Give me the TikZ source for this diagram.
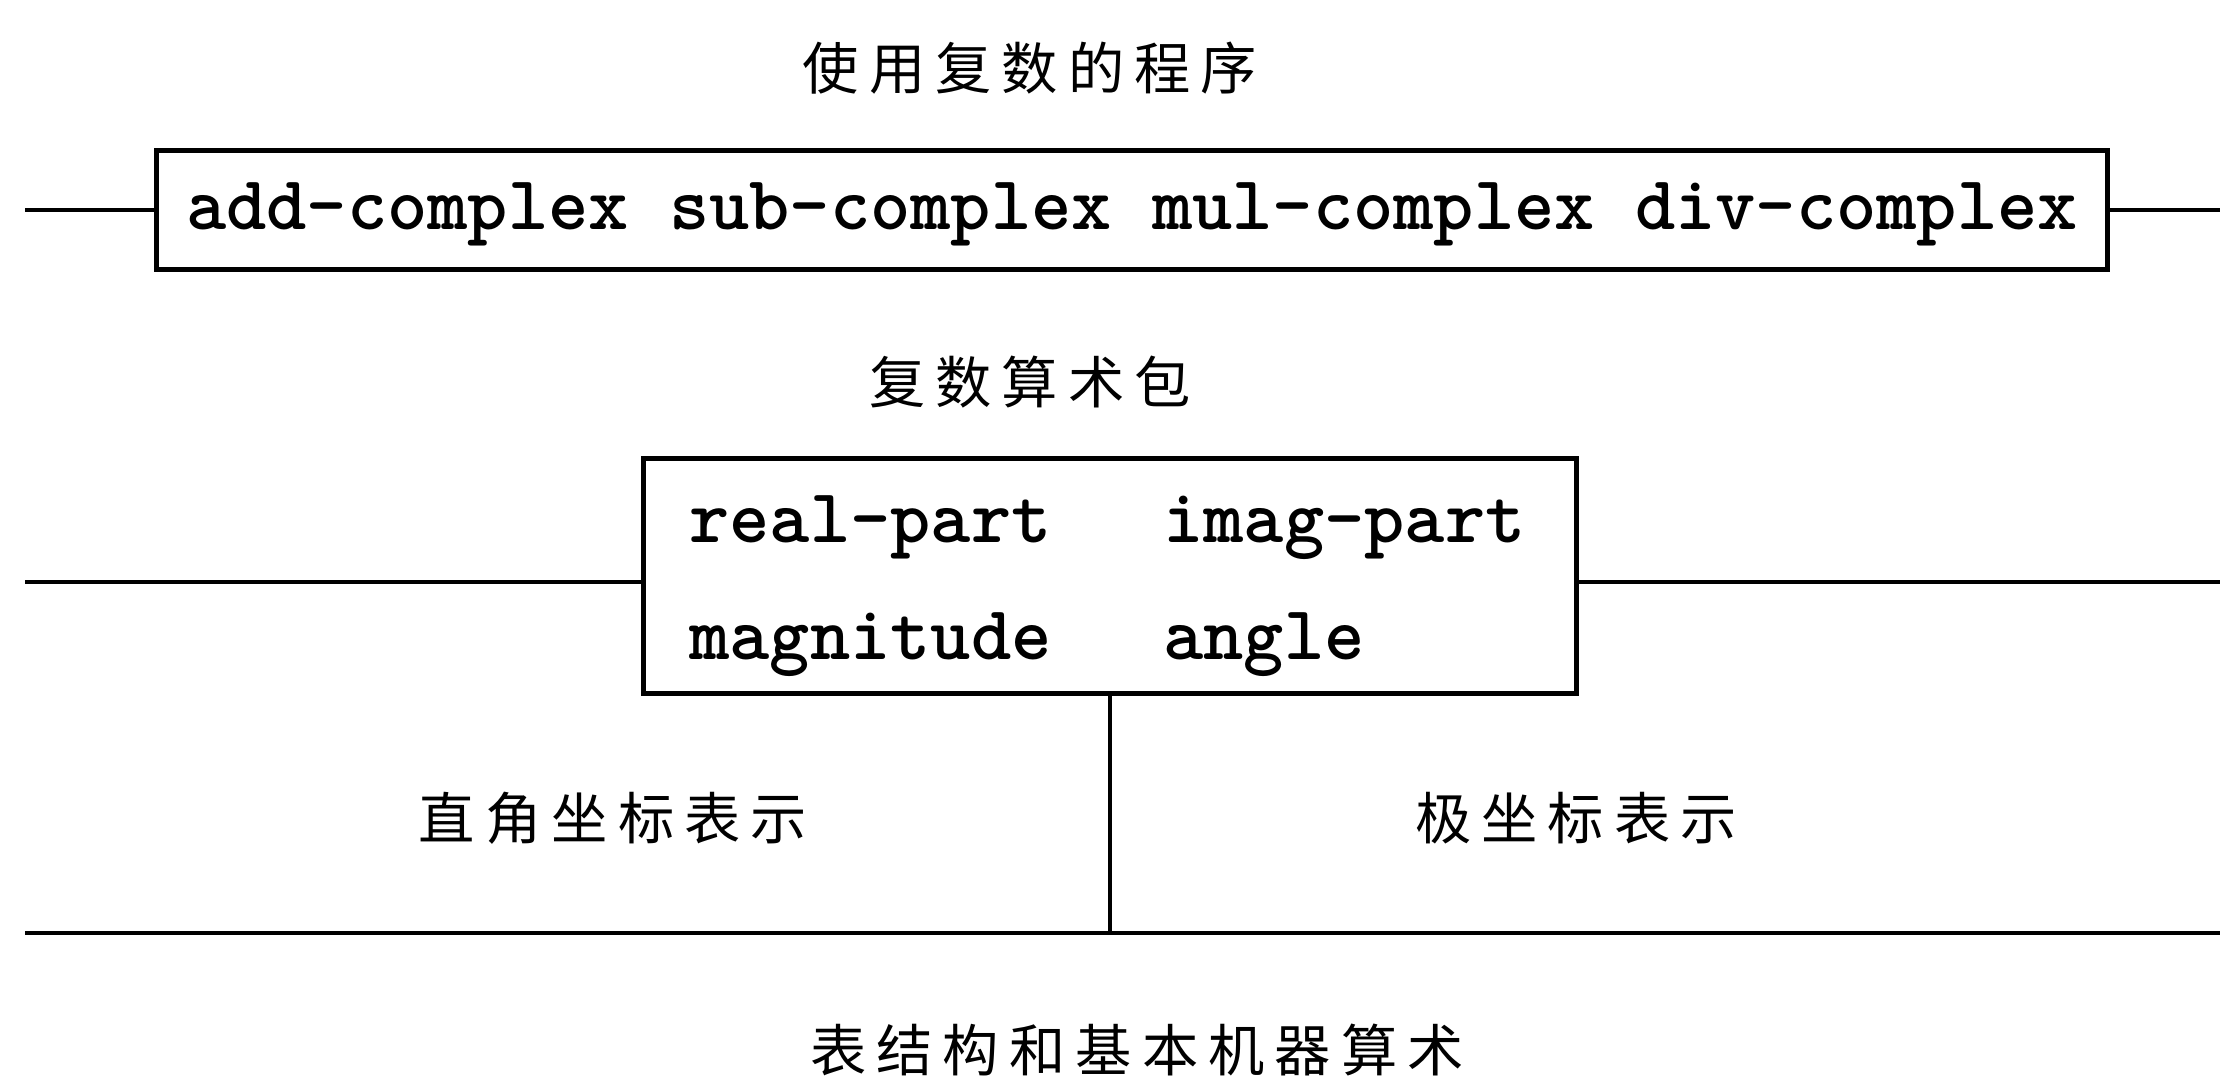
\documentclass[tikz,border=0pt]{standalone}
\usepackage{fontspec}
\usepackage{tikz}
\usetikzlibrary{positioning}
\newfontfamily\cjk{Noto Sans CJK SC}[LetterSpace=18]

\begin{document}
\begin{tikzpicture}[x=0.01cm,y=-0.01cm,line width=1.4pt]
\tikzstyle{every node}+=[inner sep=0pt]
\tikzstyle{box}=[draw,line width=1.4pt]
\tikzstyle{code}=[font=\ttfamily\bfseries\fontsize{21.8pt}{26pt}\selectfont]
\tikzstyle{lbl}=[font=\cjk\fontsize{16pt}{19pt}\selectfont]
\useasboundingbox (0,0) rectangle (2220,1080);
\node[lbl] (prog) at (1030,68) {使用复数的程序};
\node[box,code,minimum width=19.49cm,minimum height=1.19cm,text depth=0.5ex] (ops) at (1132,210) {add-complex sub-complex mul-complex div-complex};
\coordinate (opsl) at (25,210);
\coordinate (opsr) at (2220,210);
\draw (opsl) -- (ops.west);
\draw (ops.east) -- (opsr);
\node[lbl] (pkg) at (1030,382) {复数算术包};
\node[box,minimum width=9.32cm,minimum height=2.35cm] (sel) at (1110,576) {};
\node[code,anchor=base west] (re) at (687,543) {real-part};
\node[code,anchor=base west] (im) at (1161,543) {imag-part};
\node[code,anchor=base west] (mag) at (687,660) {magnitude};
\node[code,anchor=base west] (ang) at (1161,660) {angle};
\coordinate (sell) at (25,582);
\coordinate (selr) at (2220,582);
\draw (sell) -- (sell -| sel.west);
\draw (sel.east |- selr) -- (selr);
\node[lbl] (rect) at (613,818) {直角坐标表示};
\node[lbl] (polar) at (1576,818) {极坐标表示};
\coordinate (basel) at (25,933);
\coordinate (baser) at (2220,933);
\draw (basel) -- (baser);
\draw[line width=0.9pt] (sel.south) -- (sel.south |- basel);
\node[lbl] (prim) at (1137,1050) {表结构和基本机器算术};
\end{tikzpicture}
\end{document}
